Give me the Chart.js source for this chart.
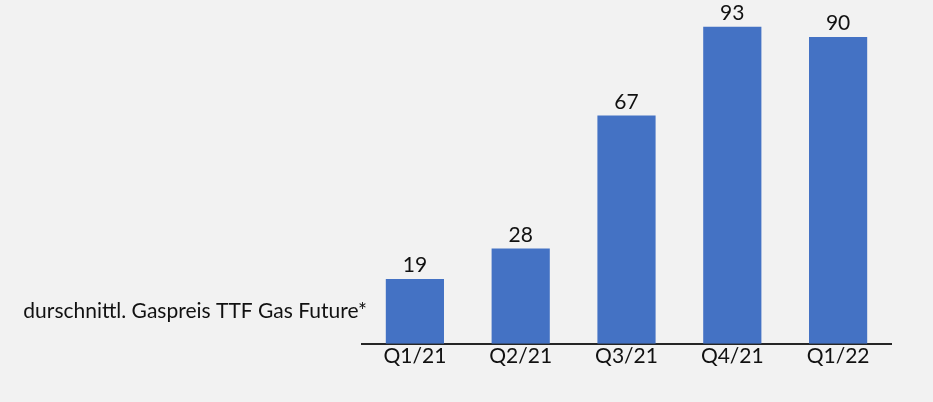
<!DOCTYPE html>
<html>
<head>
<meta charset="utf-8">
<script src="https://cdn.jsdelivr.net/npm/chart.js@4"></script>
<style>
  html, body { margin: 0; padding: 0; background: #f2f2f2; }
  #wrap { width: 933px; height: 402px; position: relative; }
</style>
</head>
<body>
<div id="wrap"><canvas id="bars"></canvas></div>
<script>
const categories = ["Q1/21", "Q2/21", "Q3/21", "Q4/21", "Q1/22"];
const gasPrice = [19, 28, 67, 93, 90];
const seriesLabel = "durschnittl. Gaspreis TTF Gas Future*";

const FONT = "Lato, 'Open Sans', sans-serif";
const TEXT = "#111111";

// value above each bar + series name at the left
const barText = {
  id: "barText",
  afterDatasetsDraw(chart) {
    const c = chart.ctx;
    const meta = chart.getDatasetMeta(0);
    c.save();
    c.fillStyle = TEXT;
    c.font = "21px " + FONT;
    c.textAlign = "center";
    c.textBaseline = "bottom";
    meta.data.forEach((bar, i) => {
      c.fillText(gasPrice[i], bar.x, bar.y - 3);
    });
    c.textAlign = "right";
    c.textBaseline = "middle";
    c.fillText(seriesLabel, chart.chartArea.left + 5, 311);
    c.restore();
  }
};

document.addEventListener("DOMContentLoaded", () => {
  const ctx = document.getElementById("bars").getContext("2d");

  new Chart(ctx, {
    type: "bar",
    data: {
      labels: categories,
      datasets: [
        {
          label: seriesLabel,
          data: gasPrice,
          backgroundColor: "#4472c4",
          barPercentage: 0.55,
          categoryPercentage: 1,
        },
      ],
    },
    options: {
      responsive: true,
      maintainAspectRatio: false,
      animation: false,
      layout: { padding: { left: 362, right: 42, top: 3, bottom: 33 } },
      plugins: { legend: { display: false }, tooltip: { enabled: false } },
      scales: {
        x: {
          grid: { display: false, drawTicks: false },
          border: { display: true, color: "#262626", width: 2 },
          ticks: { color: TEXT, font: { size: 21, family: FONT }, padding: 0 },
        },
        y: {
          display: false,
          min: 0,
          max: 100,
        },
      },
    },
    plugins: [barText],
  });
});
</script>
</body>
</html>
